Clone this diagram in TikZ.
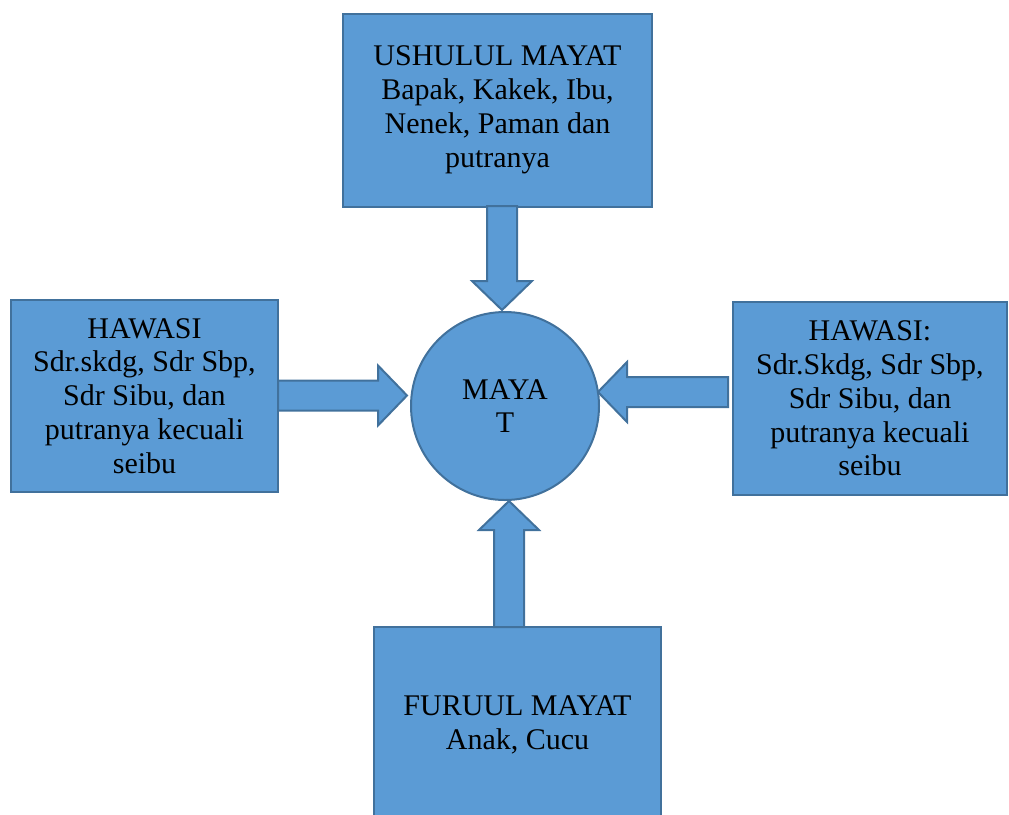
\documentclass[tikz,border=0pt]{standalone}
\usepackage{fontspec}
\setmainfont{Liberation Serif}
\usetikzlibrary{calc}

\definecolor{isi}{HTML}{5B9BD5}
\definecolor{garis}{HTML}{41719C}

% panah blok: titik pangkal, sudut, panjang
\newcommand{\panah}[3]{%
  \begin{scope}[shift={(#1)}, rotate=#2]
    \draw[blok] (0,-15) -- (#3-29,-15) -- (#3-29,-30) -- (#3,0)
      -- (#3-29,30) -- (#3-29,15) -- (0,15) -- cycle;
  \end{scope}}

\begin{document}
\begin{tikzpicture}[
  x=1pt, y=-1pt,
  kotak/.style={rectangle, draw=garis, fill=isi, line width=2pt,
    align=center, inner sep=0pt, font=\fontsize{30}{33.8}\selectfont},
  bulat/.style={circle, draw=garis, fill=isi, line width=2pt,
    align=center, inner sep=0pt, minimum size=188pt,
    font=\fontsize{30}{33.8}\selectfont},
  blok/.style={draw=garis, fill=isi, line width=2pt, line join=miter}
]
  \useasboundingbox (0,0) rectangle (1009,814);
  \clip (0,0) rectangle (1009,814);

  % Lingkaran tengah
  \node[bulat] (mayat) at (505,406) {MAYA\\T};

  % Kotak-kotak ahli waris
  \node[kotak, minimum width=309pt, minimum height=193pt] (ushul) at (497.5,110)
    {USHULUL MAYAT\\Bapak, Kakek, Ibu,\\Nenek, Paman dan\\putranya};
  \node[kotak, minimum width=267pt, minimum height=192pt] (hawkiri) at (144.5,396)
    {HAWASI\\Sdr.skdg, Sdr Sbp,\\Sdr Sibu, dan\\putranya kecuali\\seibu};
  \node[kotak, minimum width=274pt, minimum height=193pt] (hawkanan) at (870,398.5)
    {HAWASI:\\Sdr.Skdg, Sdr Sbp,\\Sdr Sibu, dan\\putranya kecuali\\seibu};
  \node[kotak, minimum width=287pt, minimum height=195pt] (furu) at (517.5,724.5)
    {FURUUL MAYAT\\Anak, Cucu};

  % Titik pangkal panah
  \coordinate (p1) at (502,206);
  \coordinate (p2) at (278,395.5);
  \coordinate (p3) at (728,392);
  \coordinate (p4) at (509,627);

  % Panah menuju mayat
  \panah{p1}{-90}{104}
  \panah{p2}{0}{129}
  \panah{p3}{180}{130}
  \panah{p4}{90}{126}

\end{tikzpicture}
\end{document}
